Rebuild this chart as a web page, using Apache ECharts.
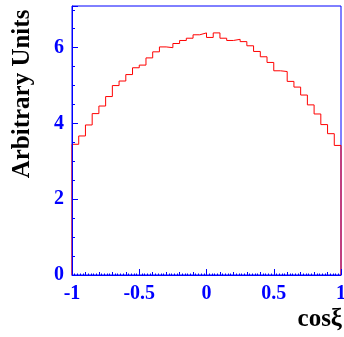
<!DOCTYPE html>
<html>
<head>
<meta charset="utf-8">
<script src="https://cdn.jsdelivr.net/npm/echarts@6/dist/echarts.min.js"></script>
<style>
html,body{margin:0;padding:0;background:#fff;}
#c{width:344px;height:337px;}
</style>
</head>
<body>
<div id="c"></div>
<script>
// Histogram: 40 bins from -1 to 1
const binLow = -1;
const binHigh = 1;
const binValues = [3.45,3.67,3.96,4.26,4.46,4.71,5.00,5.12,5.29,5.47,
                   5.54,5.73,5.89,6.02,6.00,6.11,6.19,6.25,6.34,6.39,
                   6.27,6.39,6.25,6.19,6.22,6.16,6.05,5.90,5.76,5.61,
                   5.39,5.37,5.11,4.96,4.75,4.49,4.25,3.97,3.73,3.42];
const xTicks = [-1, -0.5, 0, 0.5, 1];
const yTicks = [0, 2, 4, 6];
const yMax = 7.1;
const xTitle = 'cosξ';
const yTitle = 'Arbitrary Units';

const n = binValues.length;
const w = (binHigh - binLow) / n;
const pts = [[binLow, 0]];
for (let i = 0; i < n; i++) {
  const a = binLow + i * w, b = binLow + (i + 1) * w;
  pts.push([a, binValues[i]]);
  pts.push([b, binValues[i]]);
}
pts.push([binHigh, 0]);

const BLUE = '#0000ff';
const FONT = '"Liberation Serif","Times New Roman",serif';

const chart = echarts.init(document.getElementById('c'), null, {renderer: 'canvas'});
chart.setOption({
  animation: false,
  grid: {left: 72, right: 3, top: 6, bottom: 62, show: true, borderColor: BLUE, borderWidth: 1,
         backgroundColor: 'transparent', outerBoundsMode: 'none', containLabel: false},
  xAxis: [{
    type: 'value', min: binLow, max: binHigh, interval: 0.5, z: 5,
    axisLine: {show: true, onZero: false, lineStyle: {color: BLUE, width: 1}},
    axisTick: {show: true, inside: true, length: 6, lineStyle: {color: BLUE}},
    minorTick: {show: true, splitNumber: 5, length: 3, lineStyle: {color: BLUE}},
    splitLine: {show: false},
    axisLabel: {color: BLUE, fontFamily: FONT, fontWeight: 'bold', fontSize: 20, margin: 9,
      formatter: v => (xTicks.some(t => Math.abs(t - v) < 1e-9) ? String(Math.round(v * 10) / 10) : '')}
  }, {
    type: 'value', min: binLow, max: binHigh, interval: 0.02, position: 'bottom', gridIndex: 0, z: 4,
    axisLine: {show: false, onZero: false},
    axisTick: {show: true, inside: true, length: 1.5, lineStyle: {color: BLUE}},
    splitLine: {show: false},
    axisLabel: {show: false}
  }],
  yAxis: {
    type: 'value', min: 0, max: yMax, interval: 2, z: 5,
    axisLine: {show: true, onZero: false, lineStyle: {color: BLUE, width: 1}},
    axisTick: {show: true, inside: true, length: 6, lineStyle: {color: BLUE}},
    minorTick: {show: true, splitNumber: 4, length: 3, lineStyle: {color: BLUE}},
    splitLine: {show: false},
    axisLabel: {color: BLUE, fontFamily: FONT, fontWeight: 'bold', fontSize: 20, margin: 8, showMaxLabel: false,
      formatter: v => (yTicks.indexOf(v) >= 0 ? String(v) : '')}
  },
  series: [{
    type: 'line', data: pts, symbol: 'none', z: 2,
    lineStyle: {color: '#ff0000', width: 1},
    silent: true
  }],
  graphic: [{
    type: 'text', x: 23, y: 94, rotation: Math.PI / 2,
    style: {text: yTitle, fill: '#000', font: 'bold 25px ' + FONT, textAlign: 'center', textVerticalAlign: 'middle'}
  }, {
    type: 'text', x: 342, y: 320,
    style: {text: xTitle, fill: '#000', font: 'bold 25px ' + FONT, textAlign: 'right', textVerticalAlign: 'middle'}
  }]
});
</script>
</body>
</html>
